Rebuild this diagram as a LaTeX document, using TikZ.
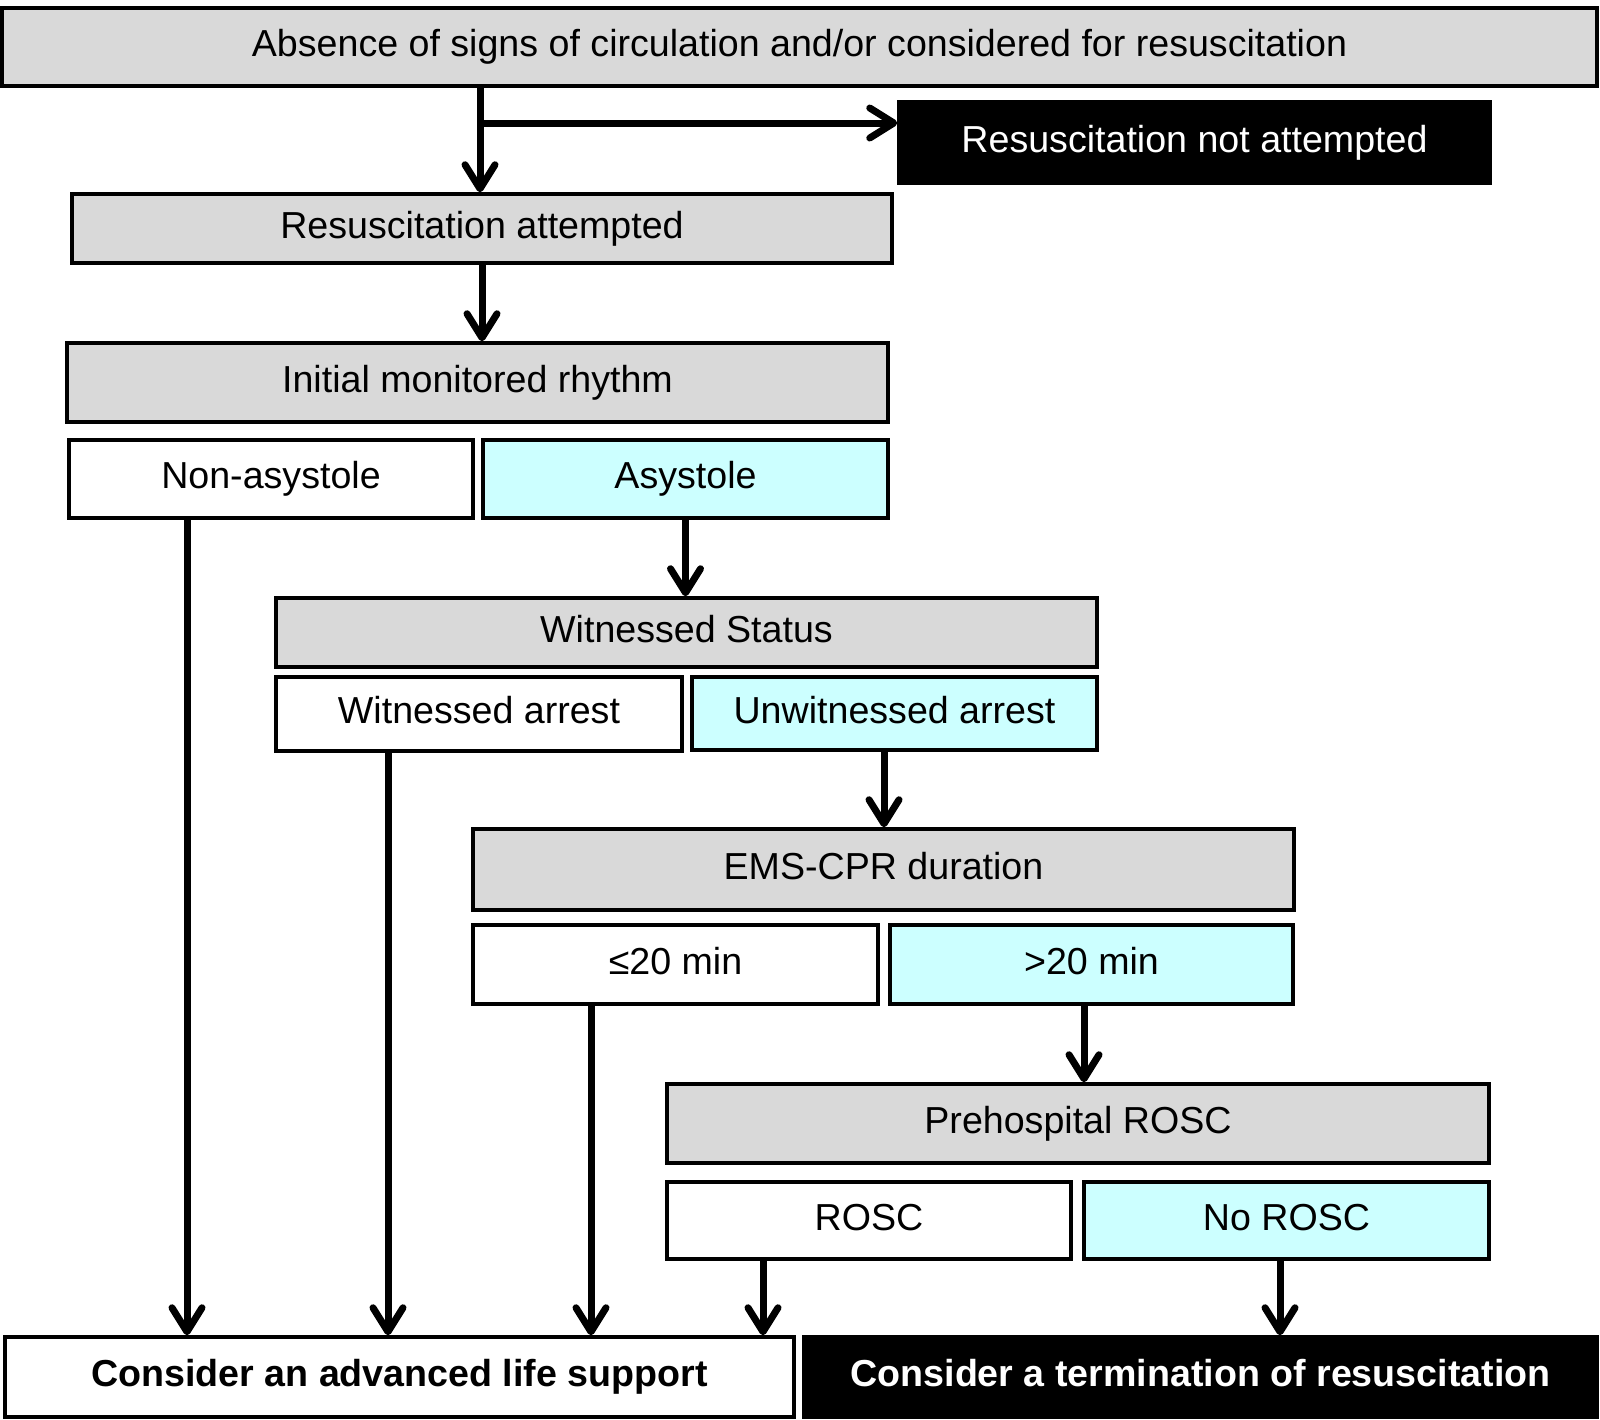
\documentclass[tikz,border=0pt]{standalone}
\usepackage{fontspec}
\setmainfont{Liberation Sans}
\usetikzlibrary{arrows.meta}
\definecolor{boxgray}{HTML}{D9D9D9}
\definecolor{boxcyan}{HTML}{CCFFFF}
\tikzset{
  base/.style={draw=black, line width=1.75pt, rectangle, inner sep=0pt,
    text height=13.5pt, text depth=3.8pt,
    font=\fontsize{18.8}{22}\selectfont},
  graybox/.style={base, fill=boxgray},
  whitebox/.style={base, fill=white},
  cyanbox/.style={base, fill=boxcyan},
  blackbox/.style={base, fill=black, text=white},
  arr/.style={line width=3.5pt, -{Straight Barb[length=12pt,width=15pt,line width=3.5pt,round]}},
}
\begin{document}
\begin{tikzpicture}[x=0.5pt, y=-0.5pt]
\useasboundingbox (0,0) rectangle (1600,1419);
\node[graybox, minimum width=797.5pt, minimum height=39pt] (top) at (799.5,47) {Absence of signs of circulation and/or considered for resuscitation};
\node[blackbox, minimum width=295.5pt, minimum height=40.5pt] (rna) at (1194.5,142.5) {Resuscitation not attempted};
\node[graybox, minimum width=410pt, minimum height=34.5pt] (ra) at (482,228.5) {Resuscitation attempted};
\node[graybox, minimum width=410.5pt, minimum height=39.5pt] (imr) at (477.5,382.5) {Initial monitored rhythm};
\node[whitebox, minimum width=202pt, minimum height=39pt] (na) at (271,479) {Non-asystole};
\node[cyanbox, minimum width=202.5pt, minimum height=39pt] (asy) at (685.5,479) {Asystole};
\node[graybox, minimum width=410.5pt, minimum height=34.5pt] (ws) at (686.5,632.5) {Witnessed Status};
\node[whitebox, minimum width=203pt, minimum height=37pt] (wa) at (479,714) {Witnessed arrest};
\node[cyanbox, minimum width=202.5pt, minimum height=36.5pt] (ua) at (894.5,713.5) {Unwitnessed arrest};
\node[graybox, minimum width=410.5pt, minimum height=40.5pt] (ems) at (883.5,869.5) {EMS-CPR duration};
\node[whitebox, minimum width=202.5pt, minimum height=39.5pt] (le) at (675.5,964.5) {≤20 min};
\node[cyanbox, minimum width=201.5pt, minimum height=39.5pt] (gt) at (1091.5,964.5) {>20 min};
\node[graybox, minimum width=411pt, minimum height=39.5pt] (ph) at (1078,1123.5) {Prehospital ROSC};
\node[whitebox, minimum width=202pt, minimum height=38.5pt] (rosc) at (869,1220.5) {ROSC};
\node[cyanbox, minimum width=202.5pt, minimum height=38.5pt] (nrosc) at (1286.5,1220.5) {No ROSC};
\node[whitebox, minimum width=394.5pt, minimum height=40pt, font=\fontsize{18.8}{22}\selectfont\bfseries] (als) at (399.5,1377) {Consider an advanced life support};
\node[blackbox, minimum width=396.5pt, minimum height=40pt, font=\fontsize{18.8}{22}\selectfont\bfseries] (term) at (1200.5,1377) {Consider a termination of resuscitation};

\coordinate (x1) at (480,0);
\coordinate (br) at (480,123);
\coordinate (xna) at (187,0);
\coordinate (xwa) at (388,0);
\coordinate (xle) at (591,0);
\coordinate (xrosc) at (763,0);
\coordinate (xua) at (884,0);
\coordinate (xgt) at (1084,0);
\coordinate (xnr) at (1280,0);

\draw[arr] (top.south -| x1) -- (ra.north -| x1);
\draw[arr] (br) -- (br -| rna.west);
\draw[arr] (ra.south) -- (imr.north -| ra.south);
\draw[arr] (asy.south) -- (ws.north -| asy.south);
\draw[arr] (ua.south -| xua) -- (ems.north -| xua);
\draw[arr] (gt.south -| xgt) -- (ph.north -| xgt);
\draw[arr] (na.south -| xna) -- (als.north -| xna);
\draw[arr] (wa.south -| xwa) -- (als.north -| xwa);
\draw[arr] (le.south -| xle) -- (als.north -| xle);
\draw[arr] (rosc.south -| xrosc) -- (als.north -| xrosc);
\draw[arr] (nrosc.south -| xnr) -- (term.north -| xnr);
\end{tikzpicture}
\end{document}
